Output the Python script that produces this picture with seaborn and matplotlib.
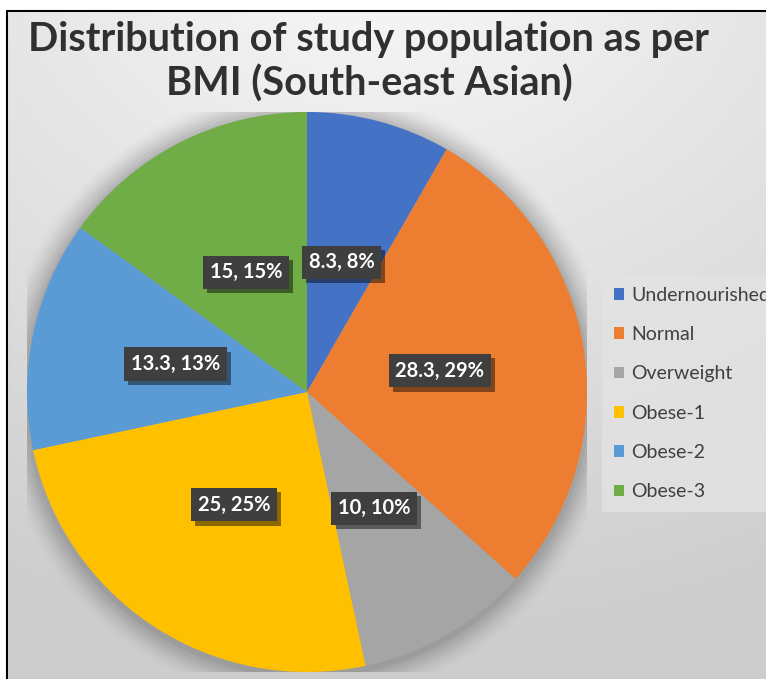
import numpy as np
import matplotlib
matplotlib.use("Agg")
import matplotlib.pyplot as plt
import matplotlib.patheffects as pe
from matplotlib.patches import Rectangle, Circle
import seaborn as sns

sns.set_theme(style="white")
plt.rcParams['font.family'] = ['Lato', 'DejaVu Sans']

# ---- data ----
categories = ["Undernourished", "Normal", "Overweight", "Obese-1", "Obese-2", "Obese-3"]
values = [8.3, 28.3, 10, 25, 13.3, 15]
pct_labels = ["8%", "29%", "10%", "25%", "13%", "15%"]
colors = ["#4472C4", "#ED7D31", "#A5A5A5", "#FFC000", "#5B9BD5", "#70AD47"]
title = "Distribution of study population as per\nBMI (South-east Asian)"

W, H = 766, 679
fig = plt.figure(figsize=(W / 100, H / 100), dpi=100)
fig.patch.set_facecolor("white")

# background gradient panel
bg = fig.add_axes([0, 0, 1, 1], zorder=0)
bg.set_axis_off()
yy, xx = np.mgrid[0:H, 0:W]
cx, cy = 380, -60
d = np.sqrt(((xx - cx) / 1.3) ** 2 + (yy - cy) ** 2)
g = 0.975 - 0.17 * np.clip(d / 700, 0, 1)
img = np.dstack([g, g, g])
bg.imshow(img, extent=[0, W, 0, H], origin="upper", aspect="auto")
bg.set_xlim(0, W)
bg.set_ylim(0, H)
# white margins + black frame lines (cropped screenshot)
bg.add_patch(Rectangle((0, H - 11), W, 11, color="white", zorder=2))
bg.add_patch(Rectangle((0, 0), 7, H, color="white", zorder=2))
bg.plot([7, 7], [0, H - 11], color="black", lw=1.5, zorder=3)
bg.plot([7, W], [H - 11, H - 11], color="black", lw=1.5, zorder=3)

# pie axes
pcx, pcy, R = 307, 392, 280
ax = fig.add_axes([(pcx - R) / W, (H - pcy - R) / H, 2 * R / W, 2 * R / H], zorder=1)
ax.set_axis_off()
ax.patch.set_alpha(0)

# soft shadow around pie
for i, a in enumerate(np.linspace(0.05, 0.012, 8)):
    ax.add_patch(Circle((0.0, -0.01), 1.0 + 0.012 * (i + 1), color="black", alpha=a, lw=0, zorder=0))

labels_txt = [f"{v:g}, {p}" for v, p in zip(values, pct_labels)]
it = iter(labels_txt)
wedges, texts, autotexts = ax.pie(
    values, colors=colors, startangle=90, counterclock=False,
    autopct=lambda p: next(it), pctdistance=0.48,
    wedgeprops=dict(linewidth=0), radius=1.0,
    textprops=dict(color="white", fontsize=14.5, fontweight="bold"),
)
for w in wedges:
    w.set_zorder(2)
for t in autotexts:
    t.set_zorder(5)
    t.set_bbox(dict(boxstyle="square,pad=0.33", facecolor="#3f3f3f", edgecolor="none"))
    t.get_bbox_patch().set_path_effects([
        pe.withSimplePatchShadow(offset=(3, -3), shadow_rgbFace="black", alpha=0.45), pe.Normal()])
ax.set_xlim(-1.0, 1.0)
ax.set_ylim(-1.0, 1.0)

# title
fig.text(369 / W, 1 - 62 / H, title, ha="center", va="center", fontsize=28.5,
         fontweight="bold", color="#303030", linespacing=1.2, zorder=5)

# legend
leg = fig.legend(wedges, categories, loc="upper left",
                 bbox_to_anchor=(602 / W, 1 - 275 / H), frameon=True,
                 fontsize=14, labelcolor="#404040", handlelength=0.55, handleheight=0.55,
                 handletextpad=0.35, labelspacing=1.15, borderpad=0.6, borderaxespad=0,
                 fancybox=False)
leg.get_frame().set_facecolor("#e3e3e3")
leg.get_frame().set_edgecolor("none")
leg.set_zorder(6)

fig.savefig("out.png", dpi=100, facecolor=fig.get_facecolor())
